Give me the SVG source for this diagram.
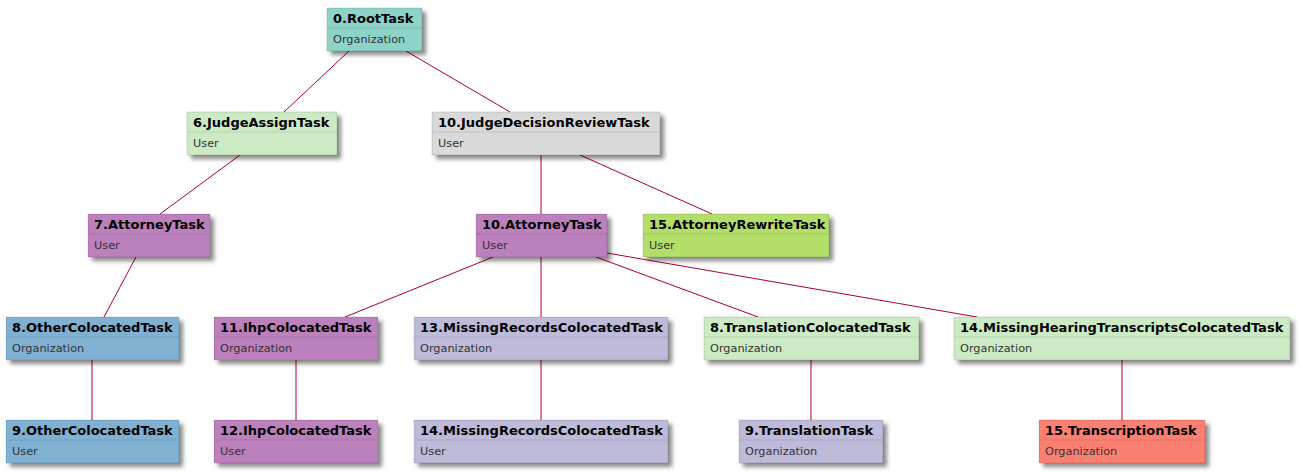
<svg xmlns="http://www.w3.org/2000/svg" width="1300" height="472" viewBox="0 0 1300 472">
<style>
.box{stroke:rgba(0,0,0,0.12);stroke-width:1;filter:url(#sh)}
.sep{stroke:rgba(0,0,0,0.1);stroke-width:1}
.t{font-family:"DejaVu Sans",Verdana,sans-serif;font-weight:bold;font-size:13px;fill:#000}
.s{font-family:"DejaVu Sans",Verdana,sans-serif;font-size:11.3px;fill:#333}
.e line{stroke:#a80036;stroke-width:1}
.c1{fill:#8dd3c7}.c2{fill:#ccebc5}.c3{fill:#d9d9d9}.c4{fill:#bc80bd}.c5{fill:#b3de69}.c6{fill:#80b1d3}.c7{fill:#bebada}.c8{fill:#fb8072}
</style>
<defs>
<filter id="sh" x="-10%" y="-20%" width="130%" height="160%">
<feDropShadow dx="4" dy="4" stdDeviation="2" flood-color="#000" flood-opacity="0.45"/>
</filter>
</defs>
<g id="connectors" class="e">
<line x1="349" y1="51" x2="284" y2="112"/>
<line x1="406" y1="51" x2="510" y2="112"/>
<line x1="240" y1="155" x2="160" y2="214"/>
<line x1="541" y1="155" x2="541" y2="214"/>
<line x1="580" y1="155" x2="712" y2="214"/>
<line x1="136" y1="257" x2="104" y2="317"/>
<line x1="493" y1="257" x2="345" y2="317"/>
<line x1="541" y1="257" x2="541" y2="317"/>
<line x1="596" y1="257" x2="758" y2="317"/>
<line x1="607" y1="253" x2="977" y2="317"/>
<line x1="92" y1="360" x2="92" y2="420"/>
<line x1="296" y1="360" x2="296" y2="420"/>
<line x1="541" y1="360" x2="541" y2="420"/>
<line x1="811" y1="360" x2="811" y2="420"/>
<line x1="1122" y1="360" x2="1122" y2="420"/>
</g>
<g id="n0" transform="translate(327,8)"><rect class="box c1" width="95" height="43"/><line class="sep" x1="0" y1="20" x2="95" y2="20"/><text class="t" x="6" y="15">0.RootTask</text><text class="s" x="6" y="35">Organization</text></g>
<g id="n6" transform="translate(187,112)"><rect class="box c2" width="150" height="43"/><line class="sep" x1="0" y1="20" x2="150" y2="20"/><text class="t" x="6" y="15">6.JudgeAssignTask</text><text class="s" x="6" y="35">User</text></g>
<g id="n10jdr" transform="translate(432,112)"><rect class="box c3" width="228" height="43"/><line class="sep" x1="0" y1="20" x2="228" y2="20"/><text class="t" x="6" y="15">10.JudgeDecisionReviewTask</text><text class="s" x="6" y="35">User</text></g>
<g id="n7" transform="translate(88,214)"><rect class="box c4" width="122" height="43"/><line class="sep" x1="0" y1="20" x2="122" y2="20"/><text class="t" x="6" y="15">7.AttorneyTask</text><text class="s" x="6" y="35">User</text></g>
<g id="n10att" transform="translate(476,214)"><rect class="box c4" width="131" height="43"/><line class="sep" x1="0" y1="20" x2="131" y2="20"/><text class="t" x="6" y="15">10.AttorneyTask</text><text class="s" x="6" y="35">User</text></g>
<g id="n15ar" transform="translate(643,214)"><rect class="box c5" width="186" height="43"/><line class="sep" x1="0" y1="20" x2="186" y2="20"/><text class="t" x="6" y="15">15.AttorneyRewriteTask</text><text class="s" x="6" y="35">User</text></g>
<g id="n8oc" transform="translate(6,317)"><rect class="box c6" width="173" height="43"/><line class="sep" x1="0" y1="20" x2="173" y2="20"/><text class="t" x="6" y="15">8.OtherColocatedTask</text><text class="s" x="6" y="35">Organization</text></g>
<g id="n11ihp" transform="translate(214,317)"><rect class="box c4" width="164" height="43"/><line class="sep" x1="0" y1="20" x2="164" y2="20"/><text class="t" x="6" y="15">11.IhpColocatedTask</text><text class="s" x="6" y="35">Organization</text></g>
<g id="n13mr" transform="translate(414,317)"><rect class="box c7" width="254" height="43"/><line class="sep" x1="0" y1="20" x2="254" y2="20"/><text class="t" x="6" y="15">13.MissingRecordsColocatedTask</text><text class="s" x="6" y="35">Organization</text></g>
<g id="n8tc" transform="translate(704,317)"><rect class="box c2" width="215" height="43"/><line class="sep" x1="0" y1="20" x2="215" y2="20"/><text class="t" x="6" y="15">8.TranslationColocatedTask</text><text class="s" x="6" y="35">Organization</text></g>
<g id="n14mh" transform="translate(954,317)"><rect class="box c2" width="336" height="43"/><line class="sep" x1="0" y1="20" x2="336" y2="20"/><text class="t" x="6" y="15">14.MissingHearingTranscriptsColocatedTask</text><text class="s" x="6" y="35">Organization</text></g>
<g id="n9oc" transform="translate(6,420)"><rect class="box c6" width="173" height="43"/><line class="sep" x1="0" y1="20" x2="173" y2="20"/><text class="t" x="6" y="15">9.OtherColocatedTask</text><text class="s" x="6" y="35">User</text></g>
<g id="n12ihp" transform="translate(214,420)"><rect class="box c4" width="164" height="43"/><line class="sep" x1="0" y1="20" x2="164" y2="20"/><text class="t" x="6" y="15">12.IhpColocatedTask</text><text class="s" x="6" y="35">User</text></g>
<g id="n14mr" transform="translate(414,420)"><rect class="box c7" width="254" height="43"/><line class="sep" x1="0" y1="20" x2="254" y2="20"/><text class="t" x="6" y="15">14.MissingRecordsColocatedTask</text><text class="s" x="6" y="35">User</text></g>
<g id="n9tt" transform="translate(739,420)"><rect class="box c7" width="144" height="43"/><line class="sep" x1="0" y1="20" x2="144" y2="20"/><text class="t" x="6" y="15">9.TranslationTask</text><text class="s" x="6" y="35">Organization</text></g>
<g id="n15tt" transform="translate(1039,420)"><rect class="box c8" width="166" height="43"/><line class="sep" x1="0" y1="20" x2="166" y2="20"/><text class="t" x="6" y="15">15.TranscriptionTask</text><text class="s" x="6" y="35">Organization</text></g>
</svg>
